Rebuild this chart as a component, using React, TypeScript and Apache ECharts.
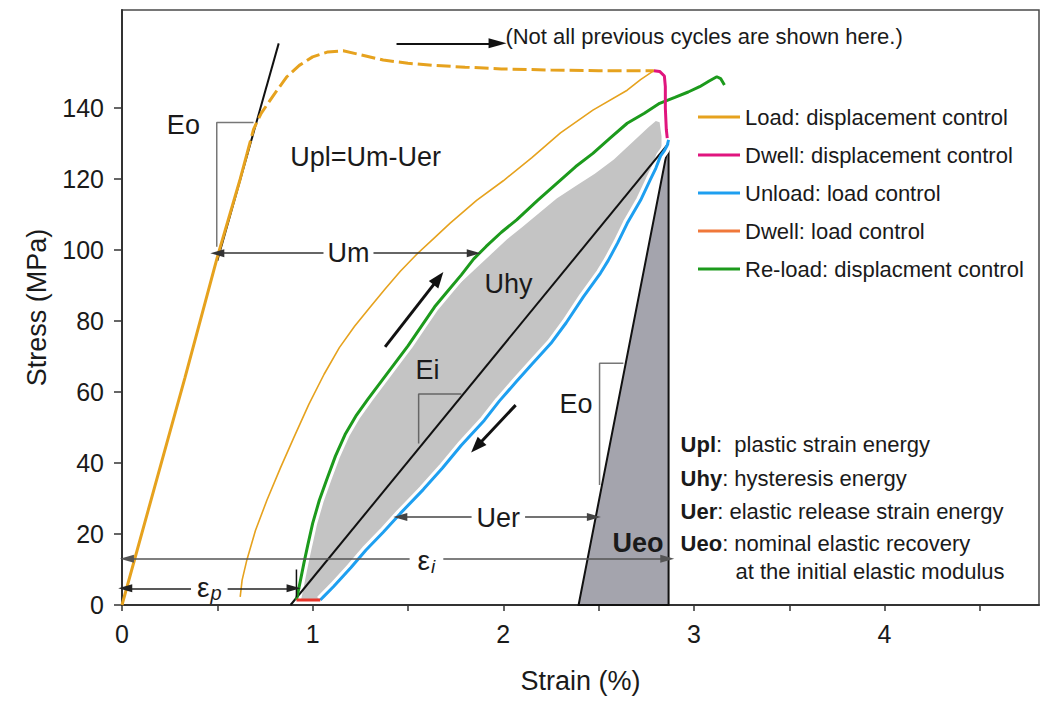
import React, { useEffect, useRef } from 'react';
import * as echarts from 'echarts';

const FONT = "'Liberation Sans', Arial, Helvetica, sans-serif";

// ---- axis ticks / labels ----
const xTickValues = [0, 0.5, 1, 1.5, 2, 2.5, 3, 3.5, 4, 4.5];
const xLabelValues = [0, 1, 2, 3, 4];
const yTickValues = [0, 20, 40, 60, 80, 100, 120, 140];

// ---- series data (strain %, stress MPa) ----
const loadInitial = [[0, 0], [0.17, 33], [0.33, 64], [0.5, 98], [0.62, 120], [0.655, 127]];
const loadDashed = [[0.655, 127], [0.69, 134], [0.73, 138.5], [0.8, 144], [0.865, 148.8], [0.93, 152], [1.0, 154.4], [1.08, 155.8], [1.16, 156.1], [1.25, 155], [1.37, 153.5], [1.5, 152.6], [1.63, 152], [1.8, 151.5], [1.99, 151], [2.25, 150.7], [2.5, 150.5], [2.79, 150.5]];
const loadCycle = [[0.62, 2.3], [0.63, 7], [0.655, 12.7], [0.7, 21], [0.76, 29.5], [0.83, 38.5], [0.9, 47], [0.98, 56.5], [1.06, 65], [1.14, 72.5], [1.22, 78.5], [1.3, 83.8], [1.38, 89], [1.46, 94], [1.55, 99], [1.64, 103.5], [1.72, 107.5], [1.86, 114], [2.0, 119.5], [2.15, 126], [2.3, 133], [2.47, 139.4], [2.65, 145], [2.72, 148], [2.79, 150.5]];
const dwellDisp = [[2.79, 150.5], [2.82, 150.3], [2.845, 149], [2.85, 146], [2.85, 140], [2.855, 134], [2.86, 131.5]];
const unload = [[2.867, 131], [2.86, 129.5], [2.845, 128], [2.825, 126.5], [2.8, 123], [2.77, 119.7], [2.72, 114], [2.65, 107.5], [2.6, 102], [2.55, 97], [2.51, 93.5], [2.42, 86.8], [2.33, 79.5], [2.25, 73.7], [2.15, 67.8], [2.07, 63], [1.98, 57.5], [1.9, 52], [1.78, 45], [1.68, 38.5], [1.58, 32.5], [1.46, 25.8], [1.37, 20.5], [1.28, 15.5], [1.2, 10.5], [1.11, 5.2], [1.06, 2.5], [1.04, 1.4]];
const dwellLoad = [[0.915, 1.4], [1.04, 1.4]];
const reload = [[0.915, 1.4], [0.925, 4], [0.94, 8], [0.955, 12], [0.975, 17], [1.0, 23], [1.035, 29.5], [1.075, 35.5], [1.12, 42], [1.17, 48], [1.23, 53.5], [1.29, 58], [1.36, 63], [1.43, 68], [1.5, 73], [1.57, 78.5], [1.64, 84], [1.71, 88.5], [1.78, 93], [1.845, 97.5], [1.91, 101], [1.99, 105], [2.07, 108.5], [2.18, 114], [2.3, 119.7], [2.38, 123.5], [2.47, 127.2], [2.56, 131.5], [2.65, 135.7], [2.74, 138.5], [2.82, 141.3], [2.9, 143], [2.97, 144.5], [3.03, 146], [3.08, 147.6], [3.12, 148.8], [3.14, 148.3], [3.16, 146.5]];

// hysteresis (Uhy) area boundary
const hystUpper = [[0.915, 1.4], [0.925, 4], [0.94, 8], [0.955, 12], [0.975, 17], [1.0, 23], [1.035, 29.5], [1.075, 35.5], [1.12, 42], [1.17, 48], [1.23, 53.5], [1.29, 58], [1.36, 63], [1.43, 68], [1.5, 73], [1.57, 78], [1.64, 83], [1.71, 87], [1.78, 91], [1.86, 95], [1.94, 99], [2.02, 103], [2.1, 106.5], [2.19, 110.5], [2.28, 114.5], [2.38, 118], [2.48, 121.5], [2.58, 125.5], [2.68, 130.5], [2.76, 134.5], [2.8, 136.3], [2.82, 136], [2.83, 132]];
const hystLower = [[2.83, 128], [2.815, 125.5], [2.79, 122.5], [2.76, 119.5], [2.71, 114], [2.64, 107.5], [2.59, 102], [2.5, 93.5], [2.41, 86.8], [2.32, 79.5], [2.24, 73.7], [2.14, 67.8], [2.06, 63], [1.97, 57.5], [1.89, 52], [1.77, 45], [1.67, 38.5], [1.57, 32.5], [1.45, 25.8], [1.36, 20.5], [1.27, 15.5], [1.19, 10.5], [1.1, 5.2], [1.05, 2.5], [1.03, 1.4]];
const ueoTriangle = [[2.395, 0], [2.867, 130], [2.867, 0]];

// construction lines
const eiLine = [[0.884, 0], [2.867, 130]];
const eoLine = [[0.5, 97], [0.822, 158.2]];
const eoMark1 = [[0.497, 100.9], [0.497, 135.9], [0.69, 135.9]];
const eiMark = [[1.556, 45.5], [1.556, 59.4], [1.78, 59.4]];
const eoMark2 = [[2.505, 33.8], [2.505, 68.1], [2.63, 68.1]];
const epTick = [[0.915, 2.2], [0.915, 10]];

// arrows: [from, to]
const noteArrow = [[1.44, 158.2], [1.97, 158.2]];
const umArrow = [[0.5, 99.1], [1.845, 99.1]];
const uerArrow = [[1.46, 24.8], [2.475, 24.8]];
const eiArrow = [[0.026, 13.0], [2.86, 13.0]];
const epArrow = [[0.017, 4.7], [0.9, 4.7]];
const loadDirArrow = [[1.38, 72.7], [1.66, 92]];
const unloadDirArrow = [[2.065, 56.3], [1.86, 44.6]];

const legendNames = ['Load: displacement control', 'Dwell: displacement control', 'Unload: load control', 'Dwell: load control', 'Re-load: displacment control'];

const C_ORANGE = '#e6a21e';
const C_PINK = '#e0157e';
const C_BLUE = '#1e9ff0';
const C_RED = '#e8352a';
const C_RED_LEG = '#f0783a';
const C_GREEN = '#1c9a1c';

function polygon(points: number[][], fill: string, stroke: string | null, lw: number) {
  return {
    type: 'custom',
    coordinateSystem: 'cartesian2d',
    silent: true,
    data: [[points[0][0], points[0][1]]],
    renderItem: (_p: any, api: any) => ({
      type: 'polygon',
      shape: { points: points.map((p) => api.coord(p)) },
      style: { fill, stroke: stroke || 'none', lineWidth: lw, lineJoin: 'miter' },
    }),
  };
}

function line(name: string, data: number[][], color: string, width: number, type: any = 'solid') {
  return {
    type: 'line',
    name,
    data,
    symbol: 'none',
    silent: true,
    lineStyle: { color, width, type, cap: 'butt' },
    itemStyle: { color },
    z: 3,
  };
}

function arrow(pts: number[][], both: boolean, color: string, width: number, size: number[]) {
  return [
    { coord: pts[0], symbol: both ? 'triangle' : 'none', symbolSize: size, lineStyle: { color, width, type: 'solid' } },
    { coord: pts[1], symbol: 'triangle', symbolSize: size, lineStyle: { color, width, type: 'solid' } },
  ];
}

export default function App() {
  const ref = useRef<HTMLDivElement>(null);
  useEffect(() => {
    const chart = echarts.init(ref.current!, null, { renderer: 'svg' });
    const option: any = {
      animation: false,
      backgroundColor: '#ffffff',
      textStyle: { fontFamily: FONT },
      grid: { left: 122, right: 11, top: 10, bottom: 96, show: true, borderColor: '#4a4a4a', borderWidth: 1.5, backgroundColor: 'transparent' },
      xAxis: {
        type: 'value', min: 0, max: 4.81,
        name: 'Strain (%)', nameLocation: 'middle', nameGap: 62,
        nameTextStyle: { fontSize: 27, color: '#1a1a1a', fontFamily: FONT },
        axisLine: { show: true, lineStyle: { color: '#333', width: 2 } },
        axisTick: { show: true, length: 6, lineStyle: { color: '#333', width: 1.5 }, customValues: xTickValues },
        axisLabel: { fontSize: 25, color: '#1a1a1a', margin: 16, fontFamily: FONT, customValues: xLabelValues },
        splitLine: { show: false },
      },
      yAxis: {
        type: 'value', min: 0, max: 167.6,
        name: 'Stress (MPa)', nameLocation: 'middle', nameGap: 72, nameRotate: 90,
        nameTextStyle: { fontSize: 27, color: '#1a1a1a', fontFamily: FONT },
        axisLine: { show: true, lineStyle: { color: '#333', width: 2 } },
        axisTick: { show: true, length: 8, lineStyle: { color: '#333', width: 1.5 }, customValues: yTickValues },
        axisLabel: { fontSize: 25, color: '#1a1a1a', margin: 18, fontFamily: FONT, customValues: yTickValues },
        splitLine: { show: false },
      },
      legend: {
        orient: 'vertical', left: 693, top: 101, itemWidth: 42, itemHeight: 3, itemGap: 16, icon: 'rect',
        selectedMode: false,
        textStyle: { fontSize: 22, color: '#1a1a1a', fontFamily: FONT },
        data: [
          { name: legendNames[0] },
          { name: legendNames[1] },
          { name: legendNames[2] },
          { name: legendNames[3], itemStyle: { color: C_RED_LEG } },
          { name: legendNames[4] },
        ],
      },
      series: [
        polygon([...hystUpper, ...hystLower], '#c4c4c4', null, 0),
        polygon(ueoTriangle, '#a4a4ad', '#111', 2),
        { ...line('haloG', reload, '#ffffff', 9), z: 2 },
        { ...line('haloB', unload, '#ffffff', 9), z: 2 },
        line('mark1', eoMark1, '#777', 1.5),
        line('mark2', eiMark, '#666', 1.5),
        line('mark3', eoMark2, '#777', 1.5),
        line('eo', eoLine, '#111', 2),
        line('ei', eiLine, '#111', 2),
        line(legendNames[0], loadCycle, C_ORANGE, 1.6),
        line(legendNames[0], loadInitial, C_ORANGE, 3),
        line(legendNames[0], loadDashed, C_ORANGE, 3, [14, 5]),
        line(legendNames[4], reload, C_GREEN, 3),
        line(legendNames[2], unload, C_BLUE, 3),
        line(legendNames[1], dwellDisp, C_PINK, 3),
        line(legendNames[3], dwellLoad, C_RED, 3),
        line('eptick', epTick, '#111', 1.5),
        {
          type: 'line', name: 'arrows', data: [], silent: true, z: 4,
          markLine: {
            silent: true, animation: false, precision: 4,
            label: { show: false },
            emphasis: { disabled: true },
            data: [
              arrow(noteArrow, false, '#111', 2, [10, 18]),
              arrow(umArrow, true, '#333', 1.5, [8, 14]),
              arrow(uerArrow, true, '#444', 1.5, [8, 14]),
              arrow(eiArrow, true, '#555', 1.5, [8, 14]),
              arrow(epArrow, true, '#222', 1.5, [8, 14]),
              arrow(loadDirArrow, false, '#111', 3, [12, 16]),
              arrow(unloadDirArrow, false, '#111', 3, [12, 16]),
            ],
          },
        },
      ],
    };
    chart.setOption(option);

    const px = (p: number[]) => chart.convertToPixel({ gridIndex: 0 }, p) as number[];
    const txt = (text: string, at: number[], extra: any = {}) => {
      const [x, y] = px(at);
      return {
        type: 'text', x, y, z: 100, silent: true,
        style: {
          text, fontSize: 27, fontFamily: FONT, fill: '#1a1a1a',
          align: 'center', verticalAlign: 'middle', ...extra,
        },
      };
    };
    const noteRich = {
      b: { fontSize: 22, fontWeight: 'bold', fontFamily: FONT, fill: '#1a1a1a' },
      n: { fontSize: 22, fontFamily: FONT, fill: '#1a1a1a' },
    };
    const graphics = [
      txt('Eo', [0.322, 135.2]),
      txt('Upl=Um-Uer', [0.883, 126.2], { align: 'left' }),
      txt('Um', [1.188, 99.2], { backgroundColor: '#fff', padding: [0, 4] }),
      txt('Uhy', [2.027, 90.4]),
      txt('Ei', [1.602, 66.2]),
      txt('Eo', [2.381, 56.6]),
      txt('Uer', [1.974, 24.6], { backgroundColor: '#fff', padding: [0, 5] }),
      txt('Ueo', [2.706, 17.5], { fontWeight: 'bold' }),
      txt('{e|ε}{s|i}', [1.597, 12.6], {
        backgroundColor: '#fff', padding: [0, 8],
        rich: { e: { fontSize: 28, fontFamily: FONT }, s: { fontSize: 19, fontStyle: 'italic', fontFamily: FONT, padding: [12, 0, 0, 1] } },
      }),
      txt('{e|ε}{s|p}', [0.458, 5.0], {
        backgroundColor: '#fff', padding: [0, 6],
        rich: { e: { fontSize: 28, fontFamily: FONT }, s: { fontSize: 20, fontStyle: 'italic', fontFamily: FONT, padding: [12, 0, 0, 1] } },
      }),
      txt('(Not all previous cycles are shown here.)', [2.011, 160], { align: 'left', fontSize: 22 }),
      txt('{b|Upl}{n|:  plastic strain energy}', [2.93, 45.1], { align: 'left', rich: noteRich }),
      txt('{b|Uhy}{n|: hysteresis energy}', [2.93, 35.5], { align: 'left', rich: noteRich }),
      txt('{b|Uer}{n|: elastic release strain energy}', [2.93, 26.2], { align: 'left', rich: noteRich }),
      txt('{b|Ueo}{n|: nominal elastic recovery}', [2.93, 17.2], { align: 'left', rich: noteRich }),
      txt('at the initial elastic modulus', [3.218, 9.3], { align: 'left', fontSize: 22 }),
    ];
    chart.setOption({ graphic: graphics });
    return () => chart.dispose();
  }, []);
  return <div ref={ref} style={{ position: 'fixed', left: 0, top: 0, width: 1050, height: 701, background: '#fff' }} />;
}
